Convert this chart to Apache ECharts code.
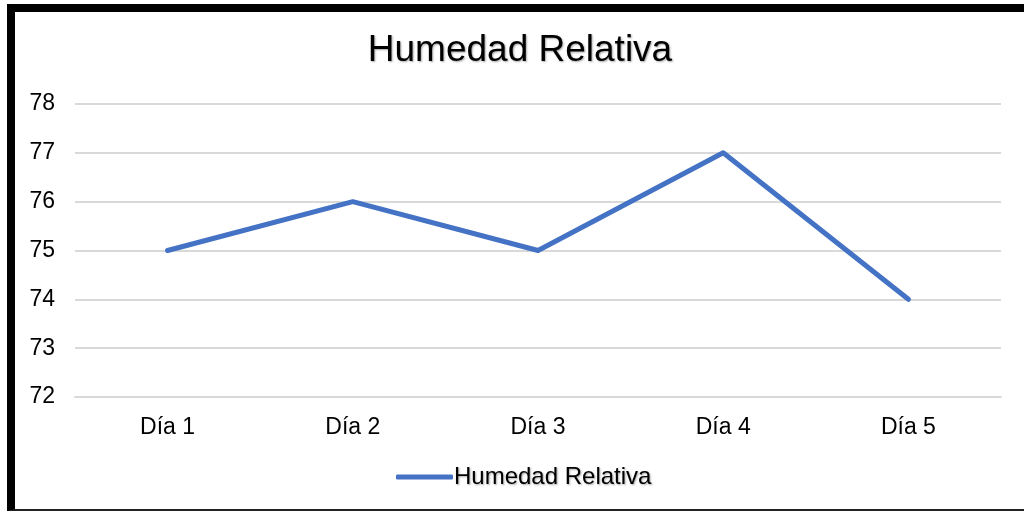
<!DOCTYPE html>
<html>
<head>
<meta charset="utf-8">
<script src="https://cdn.jsdelivr.net/npm/echarts@6/dist/echarts.min.js"></script>
<style>
  html, body { margin: 0; padding: 0; background: #fff; }
  #frame {
    position: absolute; left: 7px; top: 4px; width: 1100px; height: 497px;
    border-left: 8px solid #000; border-top: 8px solid #000; border-bottom: 2px solid #222;
  }
  #chart { position: absolute; left: 0; top: 0; width: 1024px; height: 512px; }
</style>
</head>
<body>
<div id="frame"></div>
<div id="chart"></div>
<script>
const categories = ['Día 1', 'Día 2', 'Día 3', 'Día 4', 'Día 5'];
const humedad = [75, 76, 75, 77, 74];
const seriesName = 'Humedad Relativa';

const font = '"Liberation Sans", Arial, sans-serif';
const chart = echarts.init(document.getElementById('chart'));
chart.setOption({
  animation: false,
  title: {
    text: 'Humedad Relativa',
    left: 520,
    textAlign: 'center',
    top: 32,
    padding: 0,
    textStyle: {
      fontFamily: font, fontSize: 37, fontWeight: 'normal', color: '#000',
      textShadowColor: 'rgba(0,0,0,0.35)', textShadowBlur: 2, textShadowOffsetX: 1, textShadowOffsetY: 1
    }
  },
  legend: {
    data: [seriesName],
    left: 396,
    top: 465,
    padding: 0,
    itemWidth: 57,
    itemHeight: 5,
    icon: 'roundRect',
    textStyle: {
      fontFamily: font, fontSize: 24, color: '#000', padding: [0, 0, 0, -4],
      textShadowColor: 'rgba(0,0,0,0.35)', textShadowBlur: 2, textShadowOffsetX: 1, textShadowOffsetY: 1
    }
  },
  grid: { left: 75, right: 23, top: 104, bottom: 115, containLabel: false },
  xAxis: {
    type: 'category',
    data: categories,
    boundaryGap: true,
    axisLine: { show: true, lineStyle: { color: '#d9d9d9', width: 2 } },
    axisTick: { show: false },
    axisLabel: { fontFamily: font, fontSize: 23, color: '#000', margin: 19 }
  },
  yAxis: {
    type: 'value',
    min: 72,
    max: 78,
    interval: 1,
    axisLine: { show: false },
    axisTick: { show: false },
    axisLabel: { fontFamily: font, fontSize: 23, color: '#000', margin: 20 },
    splitLine: { lineStyle: { color: '#d9d9d9', width: 2 } }
  },
  series: [{
    name: seriesName,
    type: 'line',
    data: humedad,
    showSymbol: false,
    symbol: 'none',
    lineStyle: { color: '#4472C4', width: 5, cap: 'round', join: 'round' },
    itemStyle: { color: '#4472C4' }
  }]
});
</script>
</body>
</html>
